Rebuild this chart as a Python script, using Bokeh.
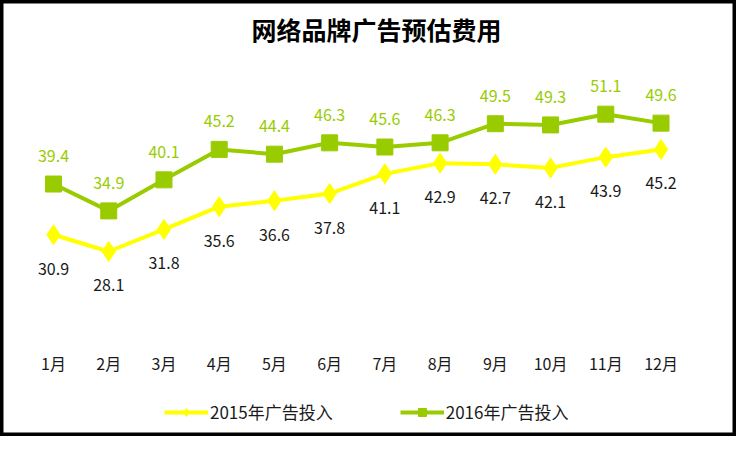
from bokeh.plotting import figure
from bokeh.models import Range1d, ColumnDataSource, Legend, LegendItem, FixedTicker, Label
from bokeh.core.properties import value
from bokeh.embed import file_html
from bokeh.resources import INLINE

months = ["1月", "2月", "3月", "4月", "5月", "6月", "7月", "8月", "9月", "10月", "11月", "12月"]
month_pos = [1, 2, 3, 4, 5, 6, 7, 8, 9, 10, 11, 12]
ad_2015 = [30.9, 28.1, 31.8, 35.6, 36.6, 37.8, 41.1, 42.9, 42.7, 42.1, 43.9, 45.2]
ad_2016 = [39.4, 34.9, 40.1, 45.2, 44.4, 46.3, 45.6, 46.3, 49.5, 49.3, 51.1, 49.6]
series_names = ["2015年广告投入", "2016年广告投入"]
title_text = "网络品牌广告预估费用"

YELLOW = "#FFFF00"
GREEN = "#99CC00"
FONT = "Noto Sans CJK SC"
W, H = 736, 436

src15 = ColumnDataSource(dict(x=month_pos, y=ad_2015, lbl=[f"{v:.1f}" for v in ad_2015]))
src16 = ColumnDataSource(dict(x=month_pos, y=ad_2016, lbl=[f"{v:.1f}" for v in ad_2016]))

p = figure(width=W, height=H, x_range=Range1d(0.04, 13.367), y_range=Range1d(-2.89, 70.14),
           output_backend="svg", toolbar_location=None,
           min_border=0, min_border_left=0, min_border_right=0, min_border_top=0, min_border_bottom=0)
p.outline_line_color = "black"
p.outline_line_width = 6
p.background_fill_color = "white"
p.border_fill_color = "white"
p.xgrid.visible = False
p.ygrid.visible = False
p.yaxis.visible = False

xa = p.xaxis[0]
xa.fixed_location = 13.4
xa.ticker = FixedTicker(ticks=month_pos)
xa.major_label_overrides = {pos: m for pos, m in zip(month_pos, months)}
xa.axis_line_color = None
xa.major_tick_line_color = None
xa.minor_tick_line_color = None
xa.major_label_text_font = FONT
xa.major_label_text_font_size = "16px"
xa.major_label_text_font_style = "normal"
xa.major_label_text_color = "#1a1a1a"
xa.major_label_standoff = 6

title = Label(x=376, y=H - 28, x_units="screen", y_units="screen", text=title_text,
              text_align="center", text_baseline="middle", text_font=FONT,
              text_font_size="25px", text_font_style="bold", text_color="black")
p.add_layout(title)

l15 = p.line("x", "y", source=src15, line_color=YELLOW, line_width=4)
m15 = p.scatter("x", "y", source=src15, marker="diamond", size=20, fill_color=YELLOW, line_color=YELLOW)
l16 = p.line("x", "y", source=src16, line_color=GREEN, line_width=4)
m16 = p.scatter("x", "y", source=src16, marker="square", size=16, fill_color=GREEN, line_color=GREEN)

p.text("x", "y", text="lbl", source=src16, y_offset=-28, text_align="center", text_baseline="middle",
       text_font=value(FONT), text_font_size="16px", text_color=GREEN)
p.text("x", "y", text="lbl", source=src15, y_offset=34, text_align="center", text_baseline="middle",
       text_font=value(FONT), text_font_size="16px", text_color="#1a1a1a")

legend = Legend(items=[LegendItem(label=series_names[0], renderers=[l15, m15]),
                       LegendItem(label=series_names[1], renderers=[l16, m16])],
                orientation="horizontal", location=(164, 12), glyph_width=44, glyph_height=20,
                spacing=67, label_standoff=2, border_line_color=None, background_fill_alpha=0,
                label_text_font=FONT, label_text_font_size="17px", label_text_color="#1a1a1a",
                margin=0, padding=4)
p.add_layout(legend)

open("out.html", "w").write(file_html(p, INLINE))
